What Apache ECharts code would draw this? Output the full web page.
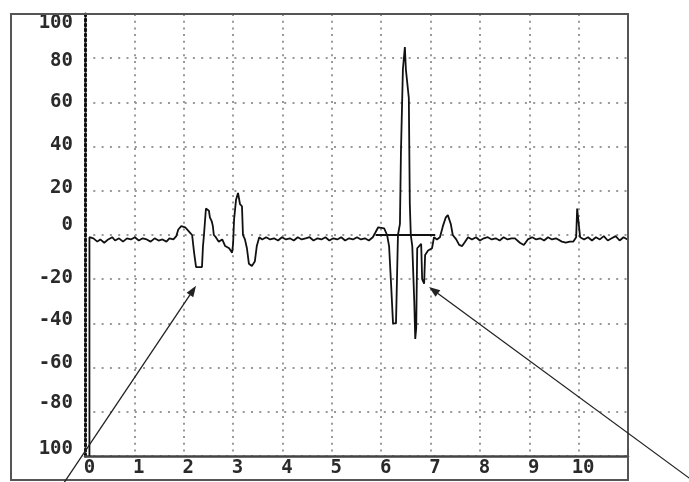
<!DOCTYPE html>
<html>
<head>
<meta charset="utf-8">
<script src="https://cdn.jsdelivr.net/npm/echarts@6/dist/echarts.min.js"></script>
<style>
  html, body { margin: 0; padding: 0; background: #fff; }
  #chart { width: 689px; height: 482px; }
</style>
</head>
<body>
<div id="chart"></div>
<script>
// Tick label texts
const xTickLabels = ['0', '1', '2', '3', '4', '5', '6', '7', '8', '9', '10'];
const yTickLabels = ['100', '80', '60', '40', '20', '0', '-20', '-40', '-60', '-80', '100'];

// Recorded trace: [time, amplitude]
const trace = [
  [0, -100], [0, -1], [0.08, -1.5], [0.16, -3], [0.22, -2], [0.3, -3.5], [0.38, -2], [0.46, -1],
  [0.52, -2.5], [0.6, -1.5], [0.68, -3], [0.76, -1.5], [0.84, -2], [0.92, -1], [1.0, -2.5],
  [1.08, -1.5], [1.16, -2], [1.24, -3], [1.32, -1.5], [1.4, -2.5], [1.48, -2], [1.56, -3],
  [1.62, -1.5], [1.7, -2], [1.76, -0.5],
  [1.8, 2.5], [1.86, 4], [1.94, 3.5], [2.0, 2], [2.04, 1],
  [2.08, 0], [2.12, -8], [2.16, -14.5], [2.28, -14.5], [2.3, -5], [2.32, 0],
  [2.36, 12], [2.42, 11], [2.44, 8], [2.48, 6], [2.5, 4], [2.52, 0],
  [2.56, -1], [2.62, -3], [2.69, -2], [2.75, -5], [2.83, -6], [2.89, -8], [2.91, -4],
  [2.93, 7], [2.97, 16], [3.01, 19], [3.05, 14], [3.09, 13], [3.11, 0],
  [3.15, -2], [3.19, -6], [3.23, -13], [3.29, -14], [3.35, -12], [3.39, -5], [3.44, -1], [3.5, -2],
  [3.58, -1], [3.66, -2], [3.74, -1.5], [3.82, -2.5], [3.9, -1], [3.98, -2], [4.06, -1.5],
  [4.14, -2.5], [4.22, -1], [4.3, -2], [4.38, -1.5], [4.46, -1], [4.54, -2.5], [4.62, -1.5],
  [4.7, -2], [4.78, -1], [4.86, -2.5], [4.94, -1.5], [5.02, -2], [5.1, -1], [5.18, -2.5],
  [5.26, -1.5], [5.34, -2], [5.42, -1], [5.5, -2], [5.58, -1.5], [5.66, -2.5], [5.74, -1],
  [5.79, 1], [5.85, 3.5], [5.97, 3], [6.03, 0],
  [6.07, -5], [6.11, -22], [6.15, -40], [6.21, -40], [6.23, -20], [6.25, 0],
  [6.29, 5], [6.31, 37], [6.35, 75], [6.39, 85], [6.41, 75], [6.47, 62], [6.49, 14], [6.51, 0],
  [6.54, -5], [6.58, -30], [6.6, -47], [6.62, -42], [6.64, -6], [6.72, -4], [6.74, -20],
  [6.78, -22], [6.8, -9], [6.86, -7], [6.94, -6], [6.98, -1],
  [7.04, -2], [7.1, -1], [7.16, 4], [7.22, 8], [7.26, 9], [7.32, 5], [7.36, 0],
  [7.43, -2], [7.49, -4.5], [7.55, -5], [7.61, -3], [7.67, -1],
  [7.75, -2], [7.83, -1], [7.91, -2.5], [7.99, -1.5], [8.07, -1], [8.15, -2], [8.23, -1.5],
  [8.31, -2.5], [8.39, -1], [8.47, -2], [8.55, -1.5],
  [8.62, -1.5], [8.72, -3.5], [8.8, -4.5], [8.88, -2], [8.97, -1],
  [9.05, -2], [9.13, -1.5], [9.21, -2.5], [9.29, -1], [9.37, -2], [9.45, -1.5], [9.49, -1],
  [9.57, -3], [9.65, -3.5], [9.73, -3], [9.8, -3], [9.86, -1],
  [9.88, 12], [9.92, 12], [9.94, -1],
  [10.02, -2], [10.1, -1], [10.18, -2.5], [10.26, -1], [10.34, -2], [10.42, -0.5], [10.5, -2.5],
  [10.58, -1.5], [10.66, -0.5], [10.74, -2.5], [10.82, -1], [10.9, -2]
];

// Flat reference level drawn across the large complex
const baselineSpan = [[5.8, 0], [7.0, 0]];

// Annotation arrows, in data units (tails run off the plot)
const arrowTips = [[2.16, -23], [6.88, -23.5]];
const arrowTails = [[-0.56, -113.6], [12.15, -110]];

// Vertical nudges for the y tick labels (pixels, + = down)
const yLabelNudge = [9, 3, 0, -2, -3, -10, -1, -3, -5, -9, -7];

const labelFont = {
  fontFamily: '"DejaVu Sans Mono", monospace',
  fontSize: 19,
  fontWeight: 'bold',
  color: '#2a2a2a'
};

const yRich = {};
yLabelNudge.forEach(function (d, i) {
  const p = Math.abs(d) * 2;
  yRich['s' + i] = Object.assign({}, labelFont, {
    padding: d >= 0 ? [p, 0, 0, 0] : [0, 0, p, 0]
  });
});

const chart = echarts.init(document.getElementById('chart'), null, { renderer: 'canvas' });

chart.setOption({
  animation: false,
  backgroundColor: '#fff',
  grid: { left: 85, right: 61, top: 14, bottom: 26 },
  xAxis: [
    {
      type: 'value',
      min: -0.09,
      max: 10.91,
      position: 'bottom',
      axisLine: { show: true, onZero: false, lineStyle: { color: '#444', width: 2.5 } },
      axisTick: { show: false },
      splitLine: { show: false },
      axisLabel: Object.assign({}, labelFont, {
        customValues: xTickLabels.map(function (_, i) { return i; }),
        margin: 3,
        formatter: function (v) { return xTickLabels[Math.round(v)]; }
      })
    },
    {
      // grid columns
      type: 'value',
      min: 0,
      max: 11,
      interval: 1,
      position: 'top',
      axisLine: { show: false },
      axisTick: { show: false },
      axisLabel: { show: false },
      splitLine: { show: true, lineStyle: { color: '#999', width: 2, type: [2, 4.7] } }
    }
  ],
  yAxis: {
    type: 'value',
    min: -100,
    max: 100,
    interval: 20,
    axisLine: { show: true, onZero: false, lineStyle: { color: '#111', width: 3, type: [2, 3] } },
    axisTick: { show: false },
    splitLine: { show: true, lineStyle: { color: '#999', width: 2, type: [2, 6.3] } },
    axisLabel: {
      margin: 12,
      align: 'right',
      formatter: function (v) {
        const i = Math.round((100 - v) / 20);
        return '{s' + i + '|' + yTickLabels[i] + '}';
      },
      rich: yRich
    }
  },
  series: [
    {
      type: 'line',
      xAxisIndex: 0,
      yAxisIndex: 0,
      data: trace,
      symbol: 'none',
      lineStyle: { color: '#111', width: 1.8 },
      clip: false
    },
    {
      type: 'line',
      xAxisIndex: 0,
      yAxisIndex: 0,
      data: baselineSpan,
      symbol: 'none',
      lineStyle: { color: '#111', width: 1.8 }
    }
  ]
});

// Outer frame and arrows
const graphics = [{
  type: 'rect',
  shape: { x: 11, y: 14, width: 617, height: 466 },
  style: { fill: 'none', stroke: '#555', lineWidth: 2 },
  z: 100
}];

arrowTips.forEach(function (tip, k) {
  const a = chart.convertToPixel({ xAxisIndex: 0, yAxisIndex: 0 }, arrowTails[k]);
  const b = chart.convertToPixel({ xAxisIndex: 0, yAxisIndex: 0 }, tip);
  const dx = b[0] - a[0], dy = b[1] - a[1];
  const len = Math.sqrt(dx * dx + dy * dy);
  const ux = dx / len, uy = dy / len;
  const headLen = 11, headHalf = 4;
  const bx = b[0] - ux * headLen, by = b[1] - uy * headLen;
  graphics.push({
    type: 'line',
    shape: { x1: a[0], y1: a[1], x2: bx, y2: by },
    style: { stroke: '#222', lineWidth: 1.3 },
    z: 101
  });
  graphics.push({
    type: 'polygon',
    shape: { points: [[b[0], b[1]], [bx - uy * headHalf, by + ux * headHalf], [bx + uy * headHalf, by - ux * headHalf]] },
    style: { fill: '#222' },
    z: 101
  });
});

chart.setOption({ graphic: graphics });
</script>
</body>
</html>
